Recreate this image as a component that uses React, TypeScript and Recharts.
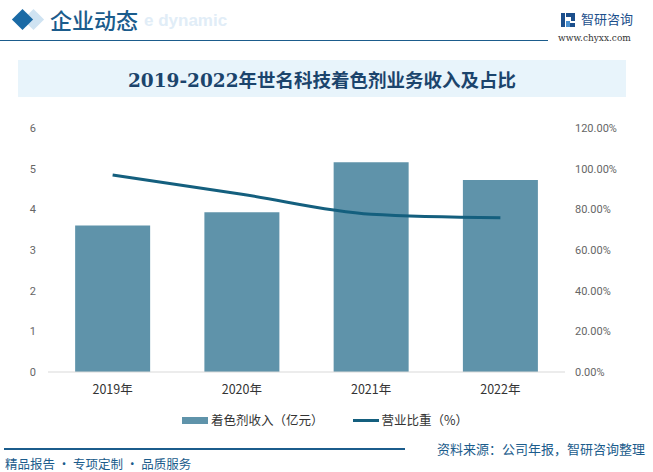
import React from 'react';
import {
  ComposedChart,
  Bar,
  Line,
  XAxis,
  YAxis,
} from 'recharts';

const years = ['2019年', '2020年', '2021年', '2022年'];
const revenue = [3.6, 3.93, 5.16, 4.72];
const share = [96.9, 87.4, 77.6, 75.8];
const leftTicks = [0, 1, 2, 3, 4, 5, 6];
const rightTicks = [0, 20, 40, 60, 80, 100, 120];

const BAR = '#5f93aa';
const LINE = '#145f7e';
const NAVY = '#1b5c8c';
const CN = '"Noto Sans CJK SC", "Noto Sans", sans-serif';

const data = years.map((y, i) => ({ year: y, revenue: revenue[i], share: share[i] }));

export default function App() {
  return (
    <div style={{ position: 'absolute', left: 0, top: 0, width: 653, height: 472, background: '#fff', overflow: 'hidden', fontFamily: CN }}>
      {/* header */}
      <svg width={653} height={50} style={{ position: 'absolute', left: 0, top: 0 }}>
        <rect x={26} y={12} width={15} height={15} fill="#cfe3f2" transform="rotate(45 33.5 19.5)" />
        <rect x={15} y={12} width={15} height={15} fill="#1a6aa5" transform="rotate(45 22.5 19.5)" />
        <line x1={0} y1={40.5} x2={548} y2={40.5} stroke="#1b5c8c" strokeWidth={1.2} />
        <rect x={561} y={13} width={4} height={14} fill="#1c4f8c" />
        <rect x={566} y={13} width={9} height={4} fill="#1c4f8c" />
        <rect x={571} y={17} width={4} height={4} fill="#1c4f8c" />
        <rect x={566} y={21} width={4} height={6} fill="#4a90d0" />
        <rect x={570} y={23} width={5} height={4} fill="#1c4f8c" />
      </svg>
      <div style={{ position: 'absolute', left: 144, top: 11, fontFamily: 'Arial, "Liberation Sans", sans-serif', fontWeight: 'bold', fontSize: 17, color: '#e1edf7' }}>e dynamic</div>
      <div style={{ position: 'absolute', left: 50, top: 3, fontSize: 22, color: NAVY, fontWeight: 500 }}>企业动态</div>
      <div style={{ position: 'absolute', left: 581, top: 9, fontSize: 13, color: '#1c4f8c' }}>智研咨询</div>
      <div style={{ position: 'absolute', left: 558, top: 33, fontSize: 9, color: '#333', fontFamily: '"DejaVu Serif", serif' }}>www.chyxx.com</div>

      {/* title band */}
      <div style={{ position: 'absolute', left: 18, top: 60, width: 608, height: 37, background: '#e8f4fb', display: 'flex', alignItems: 'center', justifyContent: 'center', fontFamily: '"DejaVu Serif", "Noto Sans CJK SC", serif', fontWeight: 'bold', fontSize: 18.5, color: '#1b446c' }}>
        2019-2022年世名科技着色剂业务收入及占比
      </div>

      <div style={{ position: 'absolute', left: 0, top: 0 }}>
        <ComposedChart width={653} height={472} data={data} margin={{ top: 128, right: 28, bottom: 70, left: 8 }} barCategoryGap="21%">
          <XAxis
            dataKey="year"
            axisLine={{ stroke: '#d9d9d9' }}
            tickLine={false}
            tickMargin={7}
            tick={{ fontSize: 12.5, fill: '#333', fontFamily: CN }}
          />
          <YAxis
            yAxisId="left"
            domain={[0, 6]}
            ticks={leftTicks}
            width={40}
            axisLine={false}
            tickLine={false}
            tickMargin={6}
            tick={{ fontSize: 11, fill: '#666', fontFamily: 'Roboto, sans-serif' }}
          />
          <YAxis
            yAxisId="right"
            orientation="right"
            domain={[0, 120]}
            ticks={rightTicks}
            width={60}
            axisLine={false}
            tickLine={false}
            tickMargin={4}
            tickFormatter={(v: number) => `${v.toFixed(2)}%`}
            tick={{ fontSize: 11, fill: '#666', fontFamily: 'Roboto, sans-serif' }}
          />
          <Bar yAxisId="left" dataKey="revenue" fill={BAR} isAnimationActive={false} />
          <Line yAxisId="right" dataKey="share" stroke={LINE} strokeWidth={3} dot={false} type="monotone" isAnimationActive={false} />
        </ComposedChart>
      </div>

      {/* legend */}
      <div style={{ position: 'absolute', left: 182, top: 411, display: 'flex', alignItems: 'center', fontSize: 12.5, color: '#333', lineHeight: '18px' }}>
        <span style={{ width: 26, height: 7, background: BAR, marginRight: 3 }} />
        <span style={{ marginRight: 29 }}>着色剂收入（亿元）</span>
        <span style={{ width: 26, height: 3, background: LINE, marginRight: 3 }} />
        <span>营业比重（%）</span>
      </div>

      {/* footer */}
      <div style={{ position: 'absolute', left: 4, top: 448, width: 401, height: 1.5, background: '#1b5c8c' }} />
      <div style={{ position: 'absolute', left: 5, top: 454, fontSize: 12.5, color: NAVY }}>精品报告 · 专项定制 · 品质服务</div>
      <div style={{ position: 'absolute', left: 437, top: 439, fontSize: 13, color: NAVY }}>资料来源：公司年报，智研咨询整理</div>
    </div>
  );
}
